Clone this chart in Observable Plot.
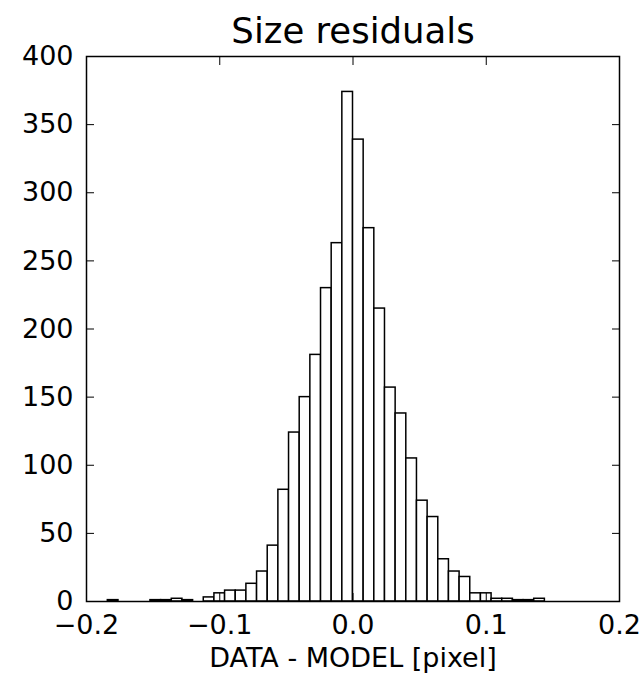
<!DOCTYPE html>
<html>
<head>
<meta charset="utf-8">
<script src="https://cdn.jsdelivr.net/npm/d3@7"></script>
<script src="https://cdn.jsdelivr.net/npm/@observablehq/plot@0.6"></script>
<style>
  html, body { margin: 0; padding: 0; background: #fff; }
  #chart svg { display: block; }
</style>
</head>
<body>
<div id="chart"></div>
<script>
// Histogram of size residuals (data minus model), bins 0.008 px wide
const title = "Size residuals";
const xLabel = "DATA - MODEL [pixel]";
const binWidth = 0.008;
const binStarts = [
  -0.184, -0.176, -0.168, -0.160, -0.152, -0.144, -0.136, -0.128, -0.120,
  -0.112, -0.104, -0.096, -0.088, -0.080, -0.072, -0.064, -0.056, -0.048,
  -0.040, -0.032, -0.024, -0.016, -0.008, 0.000, 0.008, 0.016, 0.024,
  0.032, 0.040, 0.048, 0.056, 0.064, 0.072, 0.080, 0.088, 0.096,
  0.104, 0.112, 0.120, 0.128, 0.136
];
const counts = [
  1, 0, 0, 0, 1, 1, 2, 1, 0,
  3, 6, 8, 8, 13, 22, 41, 82, 124,
  150, 181, 230, 263, 374, 339, 274, 215, 157,
  138, 105, 74, 62, 31, 22, 18, 6, 6,
  2, 2, 1, 1, 2
];
const xTicks = [-0.2, -0.1, 0.0, 0.1, 0.2];
const yTicks = [0, 50, 100, 150, 200, 250, 300, 350, 400];

const bins = binStarts.map((x0, i) => ({x1: x0, x2: x0 + binWidth, count: counts[i]}));

const chart = Plot.plot({
  width: 643,
  height: 674,
  marginLeft: 86,
  marginRight: 24,
  marginTop: 56,
  marginBottom: 73,
  style: {fontFamily: "DejaVu Sans", fontSize: "27px", color: "black", background: "white"},
  x: {domain: [-0.2, 0.2]},
  y: {domain: [0, 400]},
  marks: [
    Plot.rectY(bins, {x1: "x1", x2: "x2", y: "count", inset: 0, fill: "white", stroke: "black", strokeWidth: 1.5}),
    Plot.frame({stroke: "black", strokeWidth: 1.5}),
    // inward ticks on all four sides, labels on bottom and left only
    Plot.axisX(xTicks, {anchor: "bottom", tickSize: -8, tickPadding: 21, tickFormat: d3.format(".1f"),
      label: xLabel, labelAnchor: "center", labelArrow: "none", labelOffset: 65}),
    Plot.axisX(xTicks, {anchor: "top", tickSize: -8, tickFormat: () => "", label: null}),
    Plot.axisY(yTicks, {anchor: "left", tickSize: -8, tickPadding: 21, tickFormat: d3.format("d"), label: null}),
    Plot.axisY(yTicks, {anchor: "right", tickSize: -8, tickFormat: () => "", label: null}),
    Plot.text([title], {frameAnchor: "top", dy: -14, lineAnchor: "bottom", fontSize: 35.5})
  ]
});
document.getElementById("chart").appendChild(chart);
</script>
</body>
</html>
